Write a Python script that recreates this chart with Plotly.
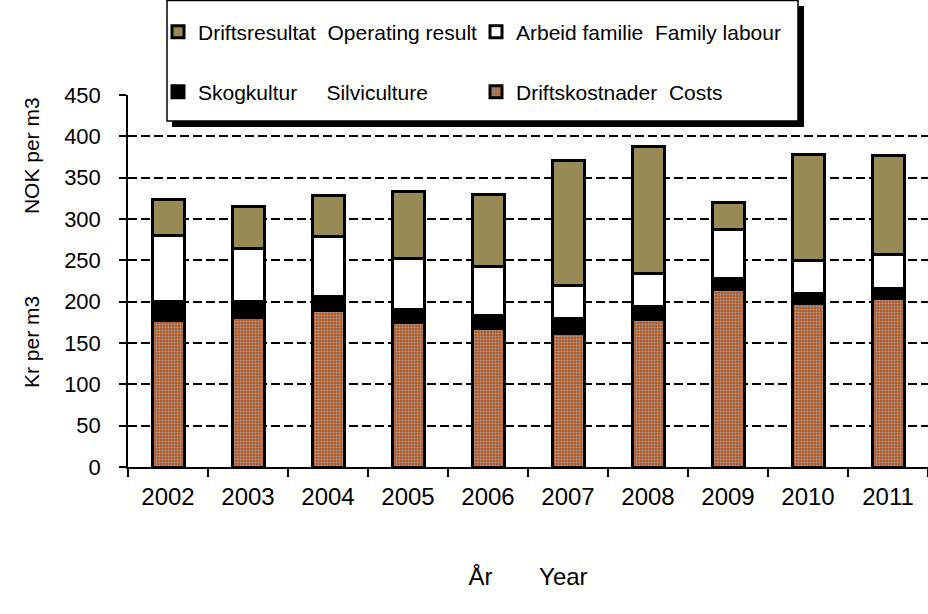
import plotly.graph_objects as go

years = ["2002", "2003", "2004", "2005", "2006", "2007", "2008", "2009", "2010", "2011"]
costs = [177, 181, 189, 175, 167, 161, 179, 215, 198, 204]
silviculture = [23, 19, 17, 15, 16, 19, 15, 13, 12, 12]
family_labour = [80, 64, 73, 62, 60, 39, 40, 59, 40, 41]
operating_result = [43, 51, 50, 81, 87, 152, 154, 33, 128, 120]

NB = "\u00a0"
names = {
    "op": "Driftsresultat" + NB * 2 + "Operating result",
    "fam": "Arbeid familie" + NB * 2 + "Family labour",
    "skog": "Skogkultur" + NB * 5 + "Silviculture",
    "cost": "Driftskostnader" + NB * 2 + "Costs",
}
y_title = "Kr per m3" + NB * 14 + "NOK per m3"
x_title = "År" + NB * 7 + "Year"

FONT = "Liberation Sans, Arial, sans-serif"
L, R, T, B = 128, 0, 95, 147
W, H = 928, 614
PW, PH = W - L - R, H - T - B


def px_x(p):
    return (p - L) / PW


def px_y(p):
    return (H - B - p) / PH


line = dict(color="black", width=3)
fig = go.Figure()
fig.add_bar(x=years, y=costs, name=names["cost"], legend="legend4",
            marker=dict(color="#B4581F", line=line,
                        pattern=dict(shape=".", fgcolor="#A6A3A8", bgcolor="#B4581F",
                                     size=3, solidity=0.35, fillmode="replace")))
fig.add_bar(x=years, y=silviculture, name=names["skog"], legend="legend3",
            marker=dict(color="black", line=line))
fig.add_bar(x=years, y=family_labour, name=names["fam"], legend="legend2",
            marker=dict(color="white", line=line))
fig.add_bar(x=years, y=operating_result, name=names["op"], legend="legend",
            marker=dict(color="#968B55", line=line))

leg_common = dict(bgcolor="rgba(0,0,0,0)", borderwidth=0, xanchor="left", yanchor="middle",
                  orientation="h", font=dict(family=FONT, size=21, color="black"))
fig.update_layout(
    legend=dict(x=px_x(158), y=px_y(32), **leg_common),
    legend2=dict(x=px_x(476), y=px_y(32), **leg_common),
    legend3=dict(x=px_x(158), y=px_y(92), **leg_common),
    legend4=dict(x=px_x(476), y=px_y(92), **leg_common),
)

fig.update_layout(
    width=W, height=H,
    margin=dict(l=L, r=R, t=T, b=B, autoexpand=False),
    paper_bgcolor="white", plot_bgcolor="white",
    barmode="stack", bargap=0.6,
    font=dict(family=FONT, color="black"),
    showlegend=True,
    shapes=[
        dict(type="rect", xref="paper", yref="paper", layer="above",
             x0=px_x(172), x1=px_x(804), y0=px_y(6), y1=px_y(127),
             fillcolor="black", line=dict(width=0)),
        dict(type="rect", xref="paper", yref="paper", layer="above",
             x0=px_x(167), x1=px_x(798), y0=px_y(0.5), y1=px_y(121),
             fillcolor="white", line=dict(color="black", width=1.5)),
    ],
    annotations=[
        dict(text=y_title, textangle=-90, xref="paper", yref="paper",
             x=px_x(31), y=px_y(243), xanchor="center", yanchor="middle",
             showarrow=False, font=dict(size=21, family=FONT, color="black")),
    ],
)

fig.update_xaxes(
    type="category", showline=True, linecolor="black", linewidth=1.5,
    ticks="outside", tickson="boundaries", ticklen=8, tickcolor="black", tickwidth=1.5,
    tickfont=dict(size=24, family=FONT), ticklabelstandoff=7, showgrid=False,
    title=dict(text=x_title, font=dict(size=24, family=FONT), standoff=60),
)
fig.update_yaxes(
    range=[0, 450], dtick=50, showline=True, linecolor="black", linewidth=1.5,
    ticks="outside", ticklen=7, tickcolor="black", tickwidth=1.5,
    tickfont=dict(size=22, family=FONT), ticklabelstandoff=14,
    showgrid=True, gridcolor="black", gridwidth=2, griddash="9px,4px",
    zeroline=False,
)

fig.write_html("out.html")
